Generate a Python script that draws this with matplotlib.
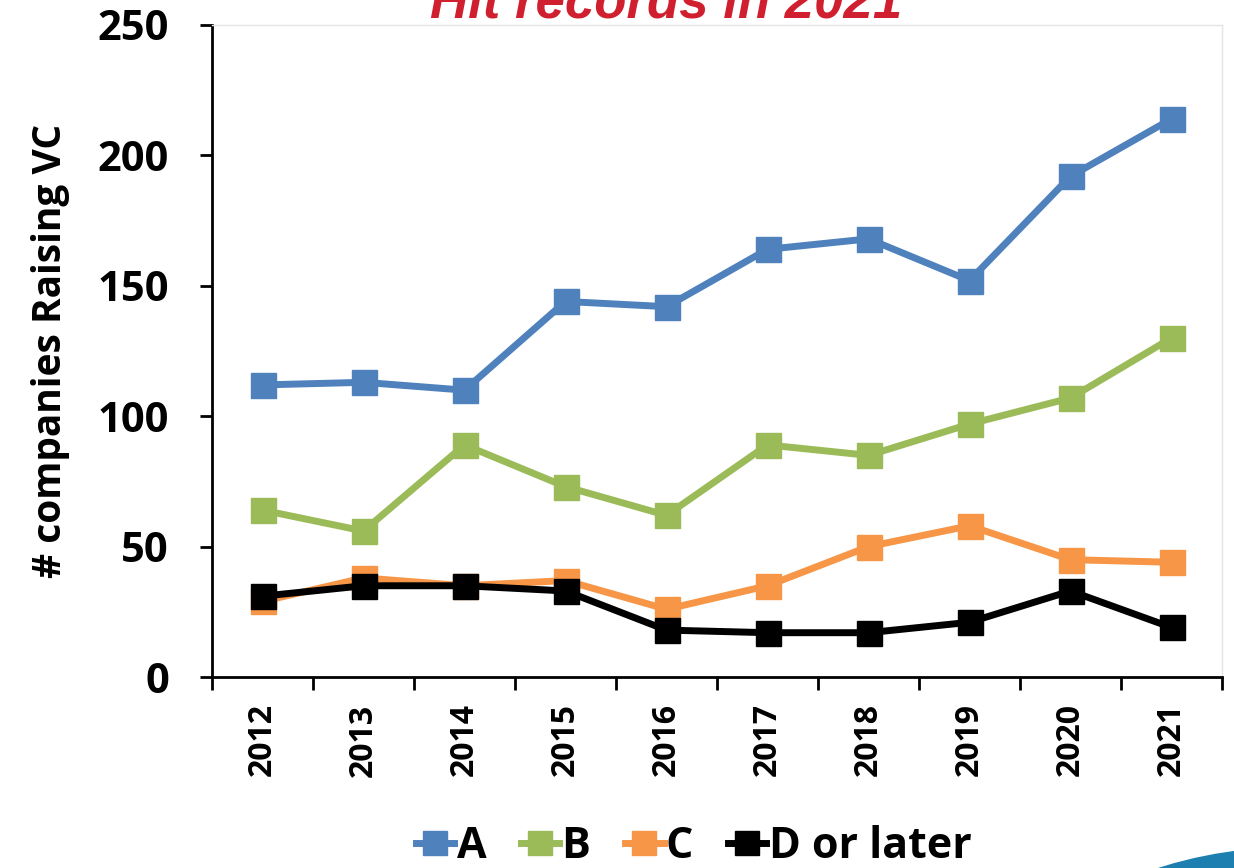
import numpy as np
import matplotlib
matplotlib.use('Agg')
import matplotlib.pyplot as plt
from matplotlib.patches import Circle
from matplotlib.lines import Line2D

years = ['2012', '2013', '2014', '2015', '2016', '2017', '2018', '2019', '2020', '2021']
series_a = [112, 113, 110, 144, 142, 164, 168, 152, 192, 214]
series_b = [64, 56, 89, 73, 62, 89, 85, 97, 107, 130]
series_c = [29, 38, 35, 37, 26, 35, 50, 58, 45, 44]
series_d = [31, 35, 35, 33, 18, 17, 17, 21, 33, 19]
labels = ['A', 'B', 'C', 'D or later']
colors = ['#4F81BD', '#9BBB59', '#F79646', '#000000']

plt.rcParams['font.family'] = ['Open Sans', 'DejaVu Sans']

fig = plt.figure(figsize=(12.34, 8.68), dpi=100)
ax = fig.add_axes([0.1718, 0.2200, 0.8185, 0.7512])

x = np.arange(len(years))
handles = []
for vals, col, lab in zip([series_a, series_b, series_c, series_d], colors, labels):
    ax.plot(x, vals, color=col, lw=5, marker='s', ms=18,
            solid_joinstyle='round', solid_capstyle='round', zorder=3)
    handles.append(Line2D([], [], color=col, lw=5, marker='s', ms=17, label=lab))

ax.set_xlim(-0.5, 9.5)
ax.set_ylim(0, 250)
ax.set_yticks([0, 50, 100, 150, 200, 250])
ax.set_xticks(x)
ax.set_xticklabels(years, rotation=90, fontsize=23, fontweight='bold')
ax.set_xticks(np.arange(-0.5, 10, 1), minor=True)
ax.tick_params(axis='x', which='major', length=0, pad=19)
ax.tick_params(axis='x', which='minor', length=9, width=2, direction='out')
ax.tick_params(axis='y', length=9, width=2, direction='out', labelsize=30, pad=22)
for t in ax.get_yticklabels():
    t.set_fontweight('bold')

for s in ['top', 'right']:
    ax.spines[s].set_color('#e4e4e4')
    ax.spines[s].set_linewidth(1)
for s in ['left', 'bottom']:
    ax.spines[s].set_linewidth(2)

ax.set_ylabel('# companies Raising VC', fontsize=28, fontweight='bold', labelpad=20)

fig.text(0.540, 0.980, 'Hit records in 2021', color='#D0202F', fontsize=38,
         fontweight='bold', fontstyle='italic', family='Liberation Sans',
         ha='center', va='baseline')

fig.legend(handles=handles, loc='center', bbox_to_anchor=(0.562, 0.025), ncol=4,
           frameon=False, handlelength=0.9, handletextpad=0.05, columnspacing=0.8,
           borderpad=0.2, prop={'size': 31, 'weight': 'bold'})

# logo fragment in the corner
fig.patches.append(Circle((12.90, -4.12), 4.32, transform=fig.dpi_scale_trans,
                          color='#1D7FB0', zorder=0))

fig.savefig('out.png', dpi=100)
